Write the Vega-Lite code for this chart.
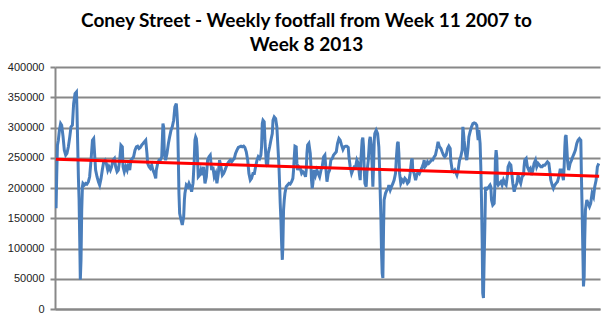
{
  "$schema": "https://vega.github.io/schema/vega-lite/v6.json",
  "width": 545,
  "height": 242,
  "autosize": "none",
  "padding": {"left": 55, "top": 67, "right": 13, "bottom": 13},
  "background": "white",
  "title": {
    "text": ["Coney Street - Weekly footfall from Week 11 2007 to", "Week 8 2013"],
    "font": "Lato",
    "fontWeight": "bold",
    "fontSize": 19,
    "lineHeight": 24,
    "color": "#000000",
    "anchor": "middle",
    "frame": "group",
    "dx": -21,
    "offset": 6
  },
  "config": {"view": {"stroke": null}},
  "datasets": {
    "footfall": [
      {"week":0.1,"footfall":166400},{"week":0.5,"footfall":224100},{"week":0.9,"footfall":270800},{"week":1.4,"footfall":279000},{"week":2.0,"footfall":295500},{"week":2.7,"footfall":306500},{"week":3.3,"footfall":303800},{"week":4.1,"footfall":284500},{"week":4.8,"footfall":262600},{"week":5.6,"footfall":254300},{"week":6.3,"footfall":257100},{"week":7.1,"footfall":268100},{"week":7.9,"footfall":284500},{"week":8.6,"footfall":301000},{"week":9.4,"footfall":303800},{"week":10.1,"footfall":339500},{"week":10.9,"footfall":355900},{"week":11.7,"footfall":358700},{"week":12.0,"footfall":328500},{"week":12.4,"footfall":273600},{"week":12.8,"footfall":218600},{"week":13.2,"footfall":180200},{"week":13.6,"footfall":108800},{"week":13.9,"footfall":48300},{"week":14.3,"footfall":81300},{"week":14.7,"footfall":163700},{"week":15.1,"footfall":202100},{"week":15.4,"footfall":207600},{"week":16.2,"footfall":204900},{"week":17.0,"footfall":207600},{"week":17.7,"footfall":206500},{"week":18.5,"footfall":210400},{"week":19.2,"footfall":218600},{"week":20.0,"footfall":246100},{"week":20.8,"footfall":279000},{"week":21.5,"footfall":281800},{"week":21.9,"footfall":262600},{"week":22.6,"footfall":229600},{"week":23.4,"footfall":218600},{"week":24.2,"footfall":210400},{"week":24.9,"footfall":204900},{"week":25.7,"footfall":215900},{"week":26.4,"footfall":229600},{"week":27.2,"footfall":243300},{"week":28.0,"footfall":246100},{"week":28.7,"footfall":240600},{"week":29.5,"footfall":229600},{"week":30.2,"footfall":235100},{"week":31.0,"footfall":229600},{"week":31.7,"footfall":235100},{"week":32.5,"footfall":246100},{"week":33.3,"footfall":248800},{"week":34.0,"footfall":235100},{"week":34.8,"footfall":226900},
      {"week":35.5,"footfall":229600},{"week":36.3,"footfall":246100},{"week":37.0,"footfall":270800},{"week":37.8,"footfall":268100},{"week":38.2,"footfall":235100},{"week":38.9,"footfall":226900},{"week":39.7,"footfall":235100},{"week":40.5,"footfall":229600},{"week":41.2,"footfall":240600},{"week":42.0,"footfall":229600},{"week":42.7,"footfall":246100},{"week":43.5,"footfall":248800},{"week":44.2,"footfall":251600},{"week":45.0,"footfall":262600},{"week":45.8,"footfall":268100},{"week":46.5,"footfall":269200},{"week":47.3,"footfall":265300},{"week":48.0,"footfall":267000},{"week":48.8,"footfall":270800},{"week":49.6,"footfall":273600},{"week":50.3,"footfall":276300},{"week":51.1,"footfall":279000},{"week":51.8,"footfall":257100},{"week":52.2,"footfall":240600},{"week":53.0,"footfall":235100},{"week":53.7,"footfall":232400},{"week":54.5,"footfall":237800},{"week":55.2,"footfall":229600},{"week":56.0,"footfall":224100},{"week":56.8,"footfall":215900},{"week":57.1,"footfall":229600},{"week":57.9,"footfall":240600},{"week":58.7,"footfall":246100},{"week":59.4,"footfall":246100},{"week":60.2,"footfall":251600},{"week":60.9,"footfall":306500},{"week":61.3,"footfall":301000},{"week":61.7,"footfall":257100},{"week":62.4,"footfall":246100},{"week":63.2,"footfall":257100},{"week":64.0,"footfall":273600},{"week":64.7,"footfall":284500},{"week":65.5,"footfall":295500},{"week":66.2,"footfall":301000},{"week":67.0,"footfall":312000},{"week":67.7,"footfall":334000},{"week":68.5,"footfall":339500},{"week":68.9,"footfall":323000},{"week":69.3,"footfall":301000},{"week":69.6,"footfall":257100},{"week":70.0,"footfall":191200},{"week":70.4,"footfall":158200},{"week":71.2,"footfall":147200},{"week":71.9,"footfall":139000},{"week":72.7,"footfall":152700},{"week":73.1,"footfall":180200},{"week":73.4,"footfall":191200},
      {"week":74.2,"footfall":204900},{"week":75.0,"footfall":202100},{"week":75.7,"footfall":207600},{"week":76.5,"footfall":202100},{"week":77.2,"footfall":193900},{"week":78.0,"footfall":207600},{"week":78.7,"footfall":246100},{"week":79.1,"footfall":279000},{"week":79.5,"footfall":284500},{"week":79.9,"footfall":281800},{"week":80.3,"footfall":268100},{"week":80.6,"footfall":246100},{"week":81.0,"footfall":218600},{"week":81.8,"footfall":221400},{"week":82.5,"footfall":229600},{"week":83.3,"footfall":221400},{"week":84.0,"footfall":235100},{"week":84.8,"footfall":207600},{"week":85.6,"footfall":218600},{"week":86.3,"footfall":246100},{"week":87.1,"footfall":251600},{"week":87.8,"footfall":254300},{"week":88.6,"footfall":229600},{"week":89.3,"footfall":235100},{"week":90.1,"footfall":218600},{"week":90.9,"footfall":224100},{"week":91.6,"footfall":207600},{"week":92.4,"footfall":224100},{"week":93.1,"footfall":246100},{"week":93.9,"footfall":235100},{"week":94.7,"footfall":221400},{"week":95.4,"footfall":224100},{"week":96.2,"footfall":229600},{"week":96.9,"footfall":235100},{"week":97.7,"footfall":240600},{"week":98.4,"footfall":243300},{"week":99.2,"footfall":246100},{"week":100.0,"footfall":243300},{"week":100.7,"footfall":246100},{"week":101.5,"footfall":248800},{"week":102.2,"footfall":257100},{"week":103.0,"footfall":262600},{"week":103.8,"footfall":267000},{"week":104.5,"footfall":268100},{"week":105.3,"footfall":269200},{"week":106.0,"footfall":268100},{"week":106.8,"footfall":269200},{"week":107.5,"footfall":267000},{"week":108.3,"footfall":259800},{"week":109.1,"footfall":246100},{"week":109.8,"footfall":224100},{"week":110.6,"footfall":213100},{"week":111.3,"footfall":215900},{"week":112.1,"footfall":224100},
      {"week":112.9,"footfall":224100},{"week":113.6,"footfall":235100},{"week":114.4,"footfall":246100},{"week":115.1,"footfall":251600},{"week":115.9,"footfall":248800},{"week":116.6,"footfall":254300},{"week":117.0,"footfall":268100},{"week":117.4,"footfall":306500},{"week":117.8,"footfall":312000},{"week":118.5,"footfall":309300},{"week":118.9,"footfall":279000},{"week":119.7,"footfall":240600},{"week":120.4,"footfall":235100},{"week":120.8,"footfall":257100},{"week":121.6,"footfall":268100},{"week":122.3,"footfall":279000},{"week":123.1,"footfall":290000},{"week":123.5,"footfall":312000},{"week":124.2,"footfall":317500},{"week":125.0,"footfall":314800},{"week":125.7,"footfall":301000},{"week":126.1,"footfall":279000},{"week":126.5,"footfall":257100},{"week":126.9,"footfall":235100},{"week":127.3,"footfall":202100},{"week":127.6,"footfall":174700},{"week":128.0,"footfall":147200},{"week":128.4,"footfall":108800},{"week":128.8,"footfall":81300},{"week":129.1,"footfall":103300},{"week":129.5,"footfall":163700},{"week":129.9,"footfall":180200},{"week":130.3,"footfall":191200},{"week":131.0,"footfall":202100},{"week":131.8,"footfall":204900},{"week":132.6,"footfall":207600},{"week":133.3,"footfall":206500},{"week":134.1,"footfall":210400},{"week":134.8,"footfall":215900},{"week":135.2,"footfall":229600},{"week":135.6,"footfall":251600},{"week":136.0,"footfall":269200},{"week":136.7,"footfall":268100},{"week":137.1,"footfall":240600},{"week":137.5,"footfall":229600},{"week":138.2,"footfall":235100},{"week":139.0,"footfall":232400},{"week":139.8,"footfall":224100},{"week":140.5,"footfall":226900},{"week":141.3,"footfall":224100},{"week":142.0,"footfall":218600},{"week":142.4,"footfall":229600},{"week":142.8,"footfall":257100},{"week":143.2,"footfall":270800},{"week":143.9,"footfall":273600},{"week":144.7,"footfall":257100},{"week":145.1,"footfall":235100},{"week":145.4,"footfall":213100},{"week":145.8,"footfall":199400},{"week":146.2,"footfall":207600},{"week":146.6,"footfall":224100},{"week":147.0,"footfall":229600},{"week":147.7,"footfall":221400},{"week":148.5,"footfall":229600},{"week":149.2,"footfall":224100},{"week":150.0,"footfall":218600},{"week":150.8,"footfall":229600},
      {"week":151.5,"footfall":235100},{"week":152.3,"footfall":251600},{"week":153.0,"footfall":254300},{"week":153.8,"footfall":224100},{"week":154.2,"footfall":210400},{"week":154.9,"footfall":224100},{"week":155.7,"footfall":229600},{"week":156.4,"footfall":246100},{"week":157.2,"footfall":248800},{"week":157.9,"footfall":254300},{"week":158.7,"footfall":257100},{"week":159.5,"footfall":259800},{"week":160.2,"footfall":273600},{"week":161.0,"footfall":281800},{"week":161.7,"footfall":279000},{"week":162.5,"footfall":270800},{"week":163.3,"footfall":263700},{"week":164.0,"footfall":268100},{"week":164.8,"footfall":269200},{"week":165.5,"footfall":269200},{"week":166.3,"footfall":267000},{"week":166.7,"footfall":251600},{"week":167.4,"footfall":235100},{"week":168.2,"footfall":224100},{"week":168.9,"footfall":229600},{"week":169.7,"footfall":235100},{"week":170.5,"footfall":235100},{"week":171.2,"footfall":246100},{"week":172.0,"footfall":240600},{"week":172.7,"footfall":221400},{"week":173.1,"footfall":213100},{"week":173.5,"footfall":246100},{"week":174.2,"footfall":279000},{"week":174.6,"footfall":283400},{"week":175.0,"footfall":268100},{"week":175.4,"footfall":229600},{"week":175.8,"footfall":207600},{"week":176.5,"footfall":202100},{"week":176.9,"footfall":224100},{"week":177.7,"footfall":246100},{"week":178.4,"footfall":279000},{"week":178.8,"footfall":284500},{"week":179.5,"footfall":268100},{"week":180.3,"footfall":202100},{"week":180.7,"footfall":235100},{"week":181.1,"footfall":279000},{"week":181.4,"footfall":290000},{"week":182.2,"footfall":295500},{"week":183.0,"footfall":290000},{"week":183.7,"footfall":268100},{"week":184.1,"footfall":235100},{"week":184.5,"footfall":191200},{"week":184.9,"footfall":147200},{"week":185.2,"footfall":97800},{"week":185.6,"footfall":59300},{"week":186.0,"footfall":51100},{"week":186.4,"footfall":136200},{"week":186.7,"footfall":180200},{"week":187.5,"footfall":191200},{"week":188.3,"footfall":196700},{"week":189.0,"footfall":199400},{"week":189.4,"footfall":204900},
      {"week":190.2,"footfall":196700},{"week":190.9,"footfall":202100},{"week":191.7,"footfall":207600},{"week":192.4,"footfall":213100},{"week":193.2,"footfall":224100},{"week":193.6,"footfall":246100},{"week":194.0,"footfall":262600},{"week":194.3,"footfall":273600},{"week":194.7,"footfall":276300},{"week":195.1,"footfall":257100},{"week":195.5,"footfall":224100},{"week":196.2,"footfall":207600},{"week":197.0,"footfall":213100},{"week":197.7,"footfall":210400},{"week":198.5,"footfall":215900},{"week":199.3,"footfall":213100},{"week":200.0,"footfall":207600},{"week":200.8,"footfall":210400},{"week":201.5,"footfall":224100},{"week":202.3,"footfall":246100},{"week":202.7,"footfall":248800},{"week":203.0,"footfall":229600},{"week":203.8,"footfall":224100},{"week":204.6,"footfall":213100},{"week":205.3,"footfall":221400},{"week":206.1,"footfall":226900},{"week":206.8,"footfall":224100},{"week":207.6,"footfall":229600},{"week":208.4,"footfall":235100},{"week":209.1,"footfall":240600},{"week":209.5,"footfall":246100},{"week":209.9,"footfall":235100},{"week":210.6,"footfall":237800},{"week":211.4,"footfall":243300},{"week":212.1,"footfall":240600},{"week":212.9,"footfall":243300},{"week":213.7,"footfall":246100},{"week":214.4,"footfall":246100},{"week":215.2,"footfall":251600},{"week":215.9,"footfall":254300},{"week":216.7,"footfall":265300},{"week":217.4,"footfall":276300},{"week":218.2,"footfall":268100},{"week":219.0,"footfall":265300},{"week":219.7,"footfall":259800},{"week":220.5,"footfall":254300},{"week":221.2,"footfall":251600},{"week":222.0,"footfall":254300},{"week":222.8,"footfall":265300},{"week":223.5,"footfall":269200},{"week":224.3,"footfall":265300},{"week":224.6,"footfall":246100},{"week":225.4,"footfall":229600},{"week":226.2,"footfall":226900},{"week":226.9,"footfall":229600},{"week":227.7,"footfall":224100},{"week":228.1,"footfall":221400},
      {"week":228.8,"footfall":229600},{"week":229.6,"footfall":246100},{"week":230.3,"footfall":251600},{"week":231.1,"footfall":262600},{"week":231.5,"footfall":301000},{"week":231.9,"footfall":290000},{"week":232.2,"footfall":279000},{"week":233.0,"footfall":257100},{"week":233.7,"footfall":246100},{"week":234.5,"footfall":268100},{"week":234.9,"footfall":284500},{"week":235.6,"footfall":292800},{"week":236.4,"footfall":301000},{"week":237.2,"footfall":306500},{"week":237.9,"footfall":307600},{"week":238.7,"footfall":306500},{"week":239.4,"footfall":303800},{"week":239.8,"footfall":290000},{"week":240.2,"footfall":279000},{"week":240.6,"footfall":295500},{"week":241.3,"footfall":273600},{"week":241.7,"footfall":235100},{"week":242.1,"footfall":180200},{"week":242.5,"footfall":108800},{"week":242.8,"footfall":26400},{"week":243.2,"footfall":18100},{"week":243.6,"footfall":81300},{"week":244.0,"footfall":136200},{"week":244.4,"footfall":202100},{"week":244.7,"footfall":196700},{"week":245.5,"footfall":199400},{"week":246.3,"footfall":202100},{"week":247.0,"footfall":204900},{"week":247.4,"footfall":202100},{"week":247.8,"footfall":180200},{"week":248.5,"footfall":171900},{"week":249.3,"footfall":174700},{"week":249.7,"footfall":202100},{"week":250.0,"footfall":246100},{"week":250.4,"footfall":262600},{"week":250.8,"footfall":251600},{"week":251.2,"footfall":207600},{"week":251.6,"footfall":204900},{"week":252.3,"footfall":207600},{"week":253.1,"footfall":210400},{"week":253.8,"footfall":204900},{"week":254.6,"footfall":213100},{"week":255.4,"footfall":207600},{"week":256.1,"footfall":204900},{"week":256.9,"footfall":221400},{"week":257.2,"footfall":235100},{"week":258.0,"footfall":240600},{"week":258.8,"footfall":237800},{"week":259.1,"footfall":229600},{"week":259.9,"footfall":207600},{"week":260.7,"footfall":193900},{"week":261.4,"footfall":202100},{"week":262.2,"footfall":207600},{"week":262.9,"footfall":221400},{"week":263.7,"footfall":213100},{"week":264.4,"footfall":207600},{"week":265.2,"footfall":218600},{"week":266.0,"footfall":221400},{"week":266.3,"footfall":235100},{"week":266.7,"footfall":246100},
      {"week":267.5,"footfall":248800},{"week":268.2,"footfall":235100},{"week":269.0,"footfall":229600},{"week":269.8,"footfall":232400},{"week":270.5,"footfall":221400},{"week":271.3,"footfall":229600},{"week":272.0,"footfall":240600},{"week":272.8,"footfall":246100},{"week":273.5,"footfall":235100},{"week":274.3,"footfall":240600},{"week":275.1,"footfall":237800},{"week":275.8,"footfall":235100},{"week":276.6,"footfall":235100},{"week":277.3,"footfall":237800},{"week":278.1,"footfall":237800},{"week":278.9,"footfall":240600},{"week":279.6,"footfall":243300},{"week":280.4,"footfall":240600},{"week":281.1,"footfall":224100},{"week":281.5,"footfall":213100},{"week":282.3,"footfall":204900},{"week":283.0,"footfall":199400},{"week":283.8,"footfall":204900},{"week":284.5,"footfall":207600},{"week":285.3,"footfall":210400},{"week":286.1,"footfall":218600},{"week":286.8,"footfall":229600},{"week":287.6,"footfall":229600},{"week":288.3,"footfall":218600},{"week":288.7,"footfall":213100},{"week":289.1,"footfall":235100},{"week":289.5,"footfall":268100},{"week":289.8,"footfall":284500},{"week":290.2,"footfall":287300},{"week":290.6,"footfall":268100},{"week":291.0,"footfall":246100},{"week":291.4,"footfall":235100},{"week":291.7,"footfall":229600},{"week":292.5,"footfall":240600},{"week":293.3,"footfall":246100},{"week":294.0,"footfall":251600},{"week":294.8,"footfall":257100},{"week":295.5,"footfall":262600},{"week":296.3,"footfall":273600},{"week":297.0,"footfall":279000},{"week":297.8,"footfall":281800},{"week":298.6,"footfall":279000},{"week":298.9,"footfall":224100},{"week":299.3,"footfall":169200},{"week":299.7,"footfall":103300},{"week":300.1,"footfall":37400},{"week":300.5,"footfall":53800},{"week":300.8,"footfall":114300},{"week":301.2,"footfall":163700},{"week":302.0,"footfall":180200},{"week":302.7,"footfall":174700},{"week":303.5,"footfall":169200},{"week":304.2,"footfall":174700},{"week":305.0,"footfall":191200},{"week":305.8,"footfall":185700},{"week":306.5,"footfall":202100},{"week":307.3,"footfall":213100},{"week":308.0,"footfall":235100},{"week":308.8,"footfall":240600}
    ],
    "trend": [
      {"week": 0, "footfall": 247500},
      {"week": 309, "footfall": 219500}
    ]
  },
  "encoding": {
    "x": {
      "field": "week",
      "type": "quantitative",
      "scale": {"domain": [-0.5, 309.5], "nice": false, "zero": false},
      "axis": {"title": null, "labels": false, "ticks": false, "grid": false, "domain": true, "domainColor": "#888888", "domainWidth": 2}
    },
    "y": {
      "field": "footfall",
      "type": "quantitative",
      "scale": {"domain": [0, 400000], "nice": false},
      "axis": {
        "title": null,
        "values": [0, 50000, 100000, 150000, 200000, 250000, 300000, 350000, 400000],
        "format": "d",
        "labelOverlap": false,
        "grid": true,
        "gridColor": "#888888",
        "gridWidth": 2,
        "domainColor": "#888888",
        "domainWidth": 2,
        "tickColor": "#888888",
        "tickSize": 5,
        "tickWidth": 2,
        "labelFont": "Liberation Sans",
        "labelFontSize": 11,
        "labelColor": "#222222",
        "labelPadding": 6
      }
    }
  },
  "layer": [
    {
      "data": {"name": "footfall"},
      "mark": {"type": "line", "color": "#4A7EBB", "strokeWidth": 3, "clip": true}
    },
    {
      "data": {"name": "trend"},
      "mark": {"type": "line", "color": "#FF0000", "strokeWidth": 3}
    }
  ]
}
